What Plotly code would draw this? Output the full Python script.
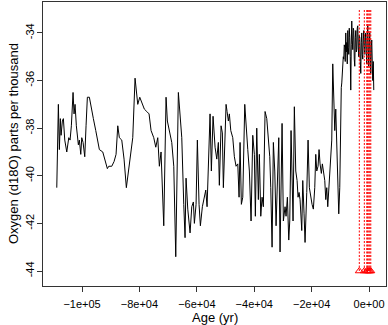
import plotly.graph_objects as go

# Age (yr) and d18O values
age = [
    -108800, -108250, -107900, -107550, -107300, -106850, -106500, -106020, -105320, -104620,
    -104170, -103720, -103130, -102780, -102430, -101980, -101280, -100930, -100440, -100100,
    -99640, -99050, -98600, -98140, -97450, -96750, -96050, -95220, -94520, -93960,
    -92780, -91980, -91180, -90690, -89640, -88840, -88150, -87550, -87000, -86160,
    -85360, -84560, -83860, -83270, -82680, -82330, -81530, -80590, -79890, -79190,
    -78290, -77450, -76650, -75950, -75010, -74310, -73620, -73060, -72470, -71530,
    -70730, -70270, -69440, -68740, -68040, -67350, -66440, -65740, -65250, -64560,
    -64110, -63760, -63160, -62360, -61770, -61210, -60860, -60270, -59820, -59230,
    -58770, -58080, -57490, -56890, -56440, -55740, -55400, -54940, -54350, -53650,
    -53060, -52500, -52160, -51560, -51110, -50760, -50280, -49820, -49470, -49020,
    -48670, -48180, -47490, -46930, -46340, -45740, -45290, -44940, -44490, -44000,
    -43310, -42750, -42260, -41700, -41110, -40520, -39960, -39610, -39130, -38570,
    -38220, -37730, -37280, -36830, -36230, -35640, -35190, -34600, -34250, -33790,
    -33340, -32850, -32400, -31950, -31460, -31010, -30660, -30310, -29860, -29270,
    -28920, -28460, -27980, -27630, -27180, -26830, -26480, -26030, -25540, -25080,
    -24740, -24390, -24040, -23450, -23100, -22650, -22300, -21710, -21250, -20800,
    -20310, -19860, -19410, -18920, -18570, -18220, -17770, -17420, -17070, -16620,
    -16270, -15780, -15430, -15090, -14740, -14390, -14040, -13690, -13340, -13000,
    -12650, -12300, -11950, -11600, -11250, -10900, -10560, -10210,
    -9860, -9680, -9510, -9330, -9160, -8980, -8810, -8640, -8470, -8300,
    -8120, -7950, -7770, -7600, -7420, -7250, -7070, -6900, -6720, -6550,
    -6380, -6200, -6030, -5860, -5680, -5500, -5330, -5150, -4980, -4800,
    -4630, -4460, -4290, -4110, -3940, -3760, -3590, -3420, -3240, -3070,
    -2890, -2720, -2540, -2370, -2200, -2020, -1850, -1680, -1500, -1330,
    -1150, -980, -800, -620, -450, -280, -100, 70, 240, 420,
    590, 770, 940, 1120, 1290, 1460, 1640,
]
d18o = [
    -40.5, -37.0, -38.9, -37.6, -38.3, -37.7, -37.6, -38.5, -39.0, -38.4,
    -38.5, -37.9, -36.5, -37.4, -37.0, -37.9, -38.7, -38.5, -39.1, -38.4,
    -38.6, -39.2, -37.9, -36.7, -36.7, -37.2, -37.6, -38.1, -38.6, -38.9,
    -39.0, -39.3, -39.7, -39.6, -39.6, -39.4, -39.1, -37.9, -38.4, -38.5,
    -39.3, -40.5, -39.8, -39.3, -38.8, -38.4, -35.9, -37.0, -36.7, -36.9,
    -37.2, -37.3, -37.4, -38.1, -38.4, -38.8, -38.4, -39.6, -39.0, -42.1,
    -36.7, -37.7, -38.2, -38.6, -39.6, -43.4, -36.5, -37.7, -38.4, -41.2,
    -42.6, -40.1, -41.4, -42.4, -41.3, -41.1, -42.0, -41.2, -38.5, -41.2,
    -42.1, -41.3, -41.0, -40.6, -41.3, -38.6, -37.4, -39.8, -37.5, -38.8,
    -39.3, -38.6, -40.4, -37.9, -38.2, -40.5, -38.8, -37.0, -37.3, -37.7,
    -37.4, -38.1, -38.4, -39.2, -39.6, -39.5, -40.9, -38.6, -41.2, -40.9,
    -37.0, -38.2, -38.9, -39.8, -41.9, -38.3, -39.1, -41.7, -38.0, -41.0,
    -39.1, -41.7, -40.9, -41.3, -37.3, -37.6, -38.5, -39.2, -40.5, -43.0,
    -38.6, -39.8, -42.1, -40.7, -38.4, -43.2, -39.8, -37.8, -41.9, -41.3,
    -41.7, -40.9, -42.7, -41.9, -38.1, -39.9, -41.9, -37.1, -39.8, -40.2,
    -40.9, -40.7, -41.0, -42.3, -40.2, -41.6, -42.8, -40.7, -38.5, -40.5,
    -40.9, -41.2, -41.4, -40.5, -39.1, -39.8, -39.6, -38.9, -39.5, -39.9,
    -39.5, -40.0, -40.2, -41.0, -40.5, -41.3, -40.7, -39.9, -39.3, -38.5,
    -35.3, -37.0, -38.1, -37.2, -38.5, -40.6, -41.6, -40.5,
    -36.8, -36.3, -36.1, -35.6, -35.4, -35.0, -35.1, -34.5, -34.6, -35.2,
    -34.0, -34.8, -34.4, -35.3, -33.9, -34.6, -34.9, -33.8, -34.2, -35.0,
    -36.4, -34.5, -33.5, -34.3, -34.7, -33.8, -33.9, -35.1, -35.4, -34.2,
    -33.9, -34.8, -34.7, -33.8, -33.7, -34.6, -35.0, -34.1, -34.2, -35.2,
    -35.7, -34.4, -34.0, -34.9, -35.1, -34.3, -33.9, -34.5, -34.9, -34.2,
    -34.0, -34.8, -35.3, -34.1, -33.7, -34.6, -35.4, -34.5, -34.0, -34.9,
    -35.7, -34.6, -34.3, -35.3, -36.0, -35.2, -36.4,
]

# Marked events (red dotted verticals with triangles)
event_age = [-3400, -1650, -800, -500, -100, 250, 600]
event_bottom = [-44.0] * len(event_age)
event_top = [-33.0] * len(event_age)

x_ticks = [-100000, -80000, -60000, -40000, -20000, 0]
x_ticktext = ["\u22121e+05", "\u22128e+04", "\u22126e+04", "\u22124e+04", "\u22122e+04", "0e+00"]
y_ticks = [-44, -42, -40, -38, -36, -34]
y_ticktext = ["-44", "-42", "-40", "-38", "-36", "-34"]

seg_x, seg_y = [], []
for a, b, t in zip(event_age, event_bottom, event_top):
    seg_x += [a, a, None]
    seg_y += [b, t, None]

fig = go.Figure()
fig.add_trace(go.Scatter(x=age, y=d18o, mode="lines",
                         line=dict(color="black", width=1), showlegend=False))
fig.add_trace(go.Scatter(x=seg_x, y=seg_y, mode="lines",
                         line=dict(color="red", width=1, dash="2px,1.5px"), showlegend=False))
fig.add_trace(go.Scatter(x=event_age, y=event_bottom, mode="markers",
                         marker=dict(symbol="triangle-up-open", size=7, color="red",
                                     line=dict(width=1, color="red")), showlegend=False))

font = "Liberation Sans, Arial, Helvetica, sans-serif"
fig.update_layout(
    width=388, height=325,
    margin=dict(l=43, r=2, t=2, b=39),
    paper_bgcolor="white", plot_bgcolor="white",
    font=dict(family=font, color="black", size=11),
    xaxis=dict(range=[-113600, 5900], tickvals=x_ticks, ticktext=x_ticktext,
               ticks="outside", ticklen=5, tickwidth=1, tickcolor="#333",
               showline=True, mirror=True, linecolor="#333", linewidth=1,
               showgrid=False, zeroline=False, automargin=False,
               ticklabelstandoff=3, tickfont=dict(size=11)),
    yaxis=dict(range=[-44.63, -32.70], tickvals=y_ticks, ticktext=y_ticktext,
               tickangle=-90,
               ticks="outside", ticklen=5, tickwidth=1, tickcolor="#333",
               showline=True, mirror=True, linecolor="#333", linewidth=1,
               showgrid=False, zeroline=False, automargin=False,
               ticklabelstandoff=-1, tickfont=dict(size=11)),
    annotations=[
        dict(text="Age (yr)", xref="paper", yref="paper", x=0.5, y=0,
             yshift=-31, showarrow=False, xanchor="center", yanchor="middle",
             font=dict(size=13)),
        dict(text="Oxygen (d18O) parts per thousand", xref="paper", yref="paper",
             x=0, y=0.5, xshift=-30, textangle=-90, showarrow=False,
             xanchor="center", yanchor="middle", font=dict(size=13)),
    ],
)

fig.write_html("out.html", config={"displayModeBar": False},
               post_script="document.body.style.margin='0';document.body.style.padding='0';")
